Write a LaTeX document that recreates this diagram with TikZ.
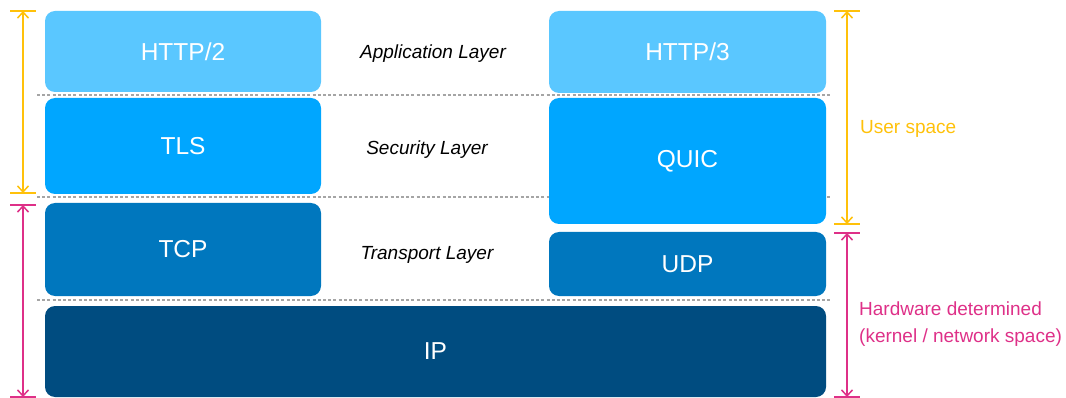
\documentclass[tikz,border=0pt]{standalone}
\usepackage{fontspec}
\setmainfont{Liberation Sans}
\usetikzlibrary{arrows.meta}
\definecolor{cA}{RGB}{90,199,255}
\definecolor{cB}{RGB}{0,166,255}
\definecolor{cC}{RGB}{0,119,190}
\definecolor{cD}{RGB}{0,76,128}
\definecolor{ylw}{RGB}{255,193,10}
\definecolor{mag}{RGB}{222,48,136}
\definecolor{dashgray}{RGB}{165,165,165}
\begin{document}
\begin{tikzpicture}[x=1pt,y=-1pt,
  layerbox/.style={rounded corners=10pt, draw=none, text=white, inner sep=0pt,
    font=\fontsize{24.5}{28}\selectfont},
  layertxt/.style={font=\itshape\fontsize{19}{22}\selectfont, text=black, inner sep=0pt},
  sep/.style={draw=dashgray, line width=1.4pt, dash pattern=on 3pt off 2.2pt},
  spanarrow/.style={line width=1.5pt, {Straight Barb[length=6pt,width=11pt]}-{Straight Barb[length=6pt,width=11pt]}},
  tick/.style={line width=1.8pt},
  sidetxt/.style={font=\fontsize{19}{26.5}\selectfont, inner sep=0pt, anchor=west, align=left}]
\useasboundingbox (0,0) rectangle (1066,398);

% separators
\coordinate (s1a) at (37,95);  \coordinate (s1b) at (832,95);
\coordinate (s2a) at (37,197); \coordinate (s2b) at (832,197);
\coordinate (s3a) at (37,300); \coordinate (s3b) at (832,300);
\draw[sep] (s1a) -- (s1b);
\draw[sep] (s2a) -- (s2b);
\draw[sep] (s3a) -- (s3b);

% left stack
\node[layerbox, fill=cA, minimum width=276pt, minimum height=81pt] (http2) at (183,51.5) {HTTP/2};
\node[layerbox, fill=cB, minimum width=276pt, minimum height=96pt] (tls) at (183,146) {TLS};
\node[layerbox, fill=cC, minimum width=276pt, minimum height=93pt] (tcp) at (183,249.5) {TCP};
% IP
\node[layerbox, fill=cD, minimum width=781pt, minimum height=91pt] (ip) at (435.5,351.5) {IP};
% right stack
\node[layerbox, fill=cA, minimum width=277pt, minimum height=82pt] (http3) at (687.5,52) {HTTP/3};
\node[layerbox, fill=cB, minimum width=277pt, minimum height=126pt] (quic) at (687.5,161) {QUIC};
\node[layerbox, fill=cC, minimum width=277pt, minimum height=64pt] (udp) at (687.5,264) {UDP};

% layer labels
\node[layertxt] (app) at (433,53.5) {Application Layer};
\node[layertxt] (sec) at (427,149.5) {Security Layer};
\node[layertxt] (trn) at (427,254.5) {Transport Layer};

% left span arrows
\coordinate (lu1) at (23,11);  \coordinate (lu2) at (23,193);
\coordinate (lu1a) at (10,11); \coordinate (lu1b) at (36,11);
\coordinate (lu2a) at (10,193); \coordinate (lu2b) at (36,193);
\draw[ylw, tick] (lu1a) -- (lu1b);
\draw[ylw, tick] (lu2a) -- (lu2b);
\draw[ylw, spanarrow] (lu1) -- (lu2);
\coordinate (lk1) at (23,205);  \coordinate (lk2) at (23,397);
\coordinate (lk1a) at (10,205); \coordinate (lk1b) at (36,205);
\coordinate (lk2a) at (10,397); \coordinate (lk2b) at (36,397);
\draw[mag, tick] (lk1a) -- (lk1b);
\draw[mag, tick] (lk2a) -- (lk2b);
\draw[mag, spanarrow] (lk1) -- (lk2);

% right span arrows
\coordinate (ru1) at (847,11);  \coordinate (ru2) at (847,224);
\coordinate (ru1a) at (834,11); \coordinate (ru1b) at (860,11);
\coordinate (ru2a) at (834,224); \coordinate (ru2b) at (860,224);
\draw[ylw, tick] (ru1a) -- (ru1b);
\draw[ylw, tick] (ru2a) -- (ru2b);
\draw[ylw, spanarrow] (ru1) -- (ru2);
\coordinate (rk1) at (847,233);  \coordinate (rk2) at (847,397);
\coordinate (rk1a) at (834,233); \coordinate (rk1b) at (860,233);
\coordinate (rk2a) at (834,397); \coordinate (rk2b) at (860,397);
\draw[mag, tick] (rk1a) -- (rk1b);
\draw[mag, tick] (rk2a) -- (rk2b);
\draw[mag, spanarrow] (rk1) -- (rk2);

% side labels
\node[sidetxt, text=ylw] (user) at (860,129) {User space};
\node[sidetxt, text=mag] (hw) at (859,324) {Hardware determined\\(kernel / network space)};
\end{tikzpicture}
\end{document}
